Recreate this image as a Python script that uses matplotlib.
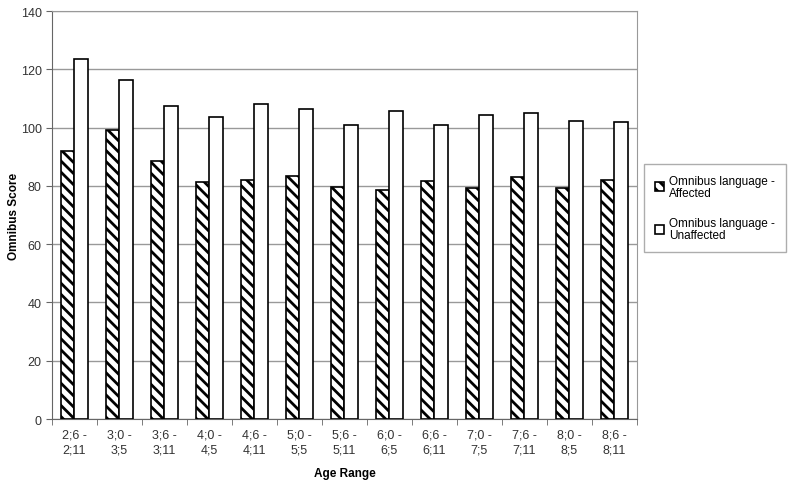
import matplotlib.pyplot as plt
import numpy as np

plt.rcParams['font.family'] = ['Liberation Sans', 'DejaVu Sans']
plt.rcParams['hatch.linewidth'] = 2.0

age_ranges = ['2;6 -\n2;11', '3;0 -\n3;5', '3;6 -\n3;11', '4;0 -\n4;5', '4;6 -\n4;11',
              '5;0 -\n5;5', '5;6 -\n5;11', '6;0 -\n6;5', '6;6 -\n6;11', '7;0 -\n7;5',
              '7;6 -\n7;11', '8;0 -\n8;5', '8;6 -\n8;11']
affected = [92.0, 99.2, 88.7, 81.3, 81.9, 83.5, 79.8, 78.5, 81.7, 79.4, 83.1, 79.4, 82.1]
unaffected = [123.5, 116.4, 107.6, 103.8, 108.2, 106.5, 101.0, 105.7, 101.0, 104.2, 105.2, 102.3, 102.1]

fig = plt.figure(figsize=(8, 4.85), dpi=100)
ax = fig.add_axes([0.065, 0.134, 0.731, 0.841])

x = np.arange(len(age_ranges))
w = 0.3
ax.bar(x - w / 2, affected, w, color='white', edgecolor='black', hatch='\\\\\\',
       linewidth=1.2, label='Omnibus language -\nAffected', zorder=3)
ax.bar(x + w / 2, unaffected, w, color='white', edgecolor='black',
       linewidth=1.2, label='Omnibus language -\nUnaffected', zorder=3)

ax.set_xlim(-0.5, len(age_ranges) - 0.5)
ax.set_ylim(0, 140)
ax.set_yticks(range(0, 141, 20))
ax.yaxis.grid(True, color='#999999', linewidth=1)
ax.set_axisbelow(True)

ax.set_xticks(x)
ax.set_xticklabels(age_ranges, fontsize=9, color='#333333', linespacing=1.3)
ax.set_xticks(np.arange(-0.5, len(age_ranges)), minor=True)
ax.tick_params(axis='x', which='major', length=0, pad=7)
ax.tick_params(axis='x', which='minor', length=4, color='#666666')
ax.tick_params(axis='y', length=4, color='#666666', labelsize=9, labelcolor='#333333')

for s in ['top', 'right']:
    ax.spines[s].set_color('#999999')
for s in ['left', 'bottom']:
    ax.spines[s].set_color('#666666')

ax.set_xlabel('Age Range', fontsize=8.5, fontweight='bold', labelpad=8)
ax.set_ylabel('Omnibus Score', fontsize=8.5, fontweight='bold')
ax.yaxis.set_label_coords(-0.054, 0.5)

leg = fig.legend(loc='upper left', bbox_to_anchor=(0.805, 0.66), fontsize=8.5,
                 handlelength=0.8, handleheight=0.8, handletextpad=0.45,
                 labelspacing=1.6, borderpad=0.9, borderaxespad=0,
                 fancybox=False, frameon=True)
leg.get_frame().set_edgecolor('#999999')
leg.get_frame().set_linewidth(1)
for t in leg.get_texts():
    t.set_linespacing(1.0)

fig.savefig('out.png', dpi=100)
